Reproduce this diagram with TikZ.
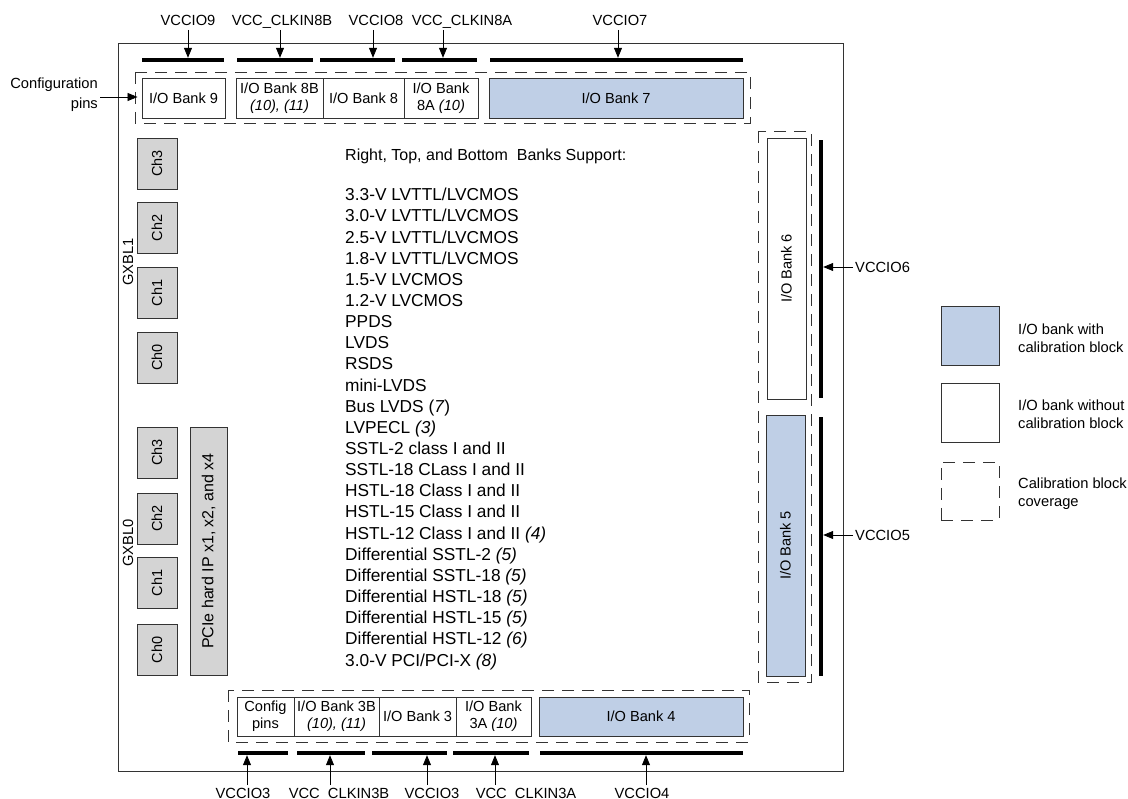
\documentclass[tikz,border=0pt]{standalone}
\usepackage{fontspec}
\setmainfont{Liberation Sans}
\usetikzlibrary{arrows.meta}
\definecolor{bankblue}{HTML}{BFCFE6}
\definecolor{chgray}{HTML}{D4D4D4}
\definecolor{edge}{HTML}{333333}
\begin{document}
\begin{tikzpicture}[x=1pt,y=-1pt,
  bank/.style={draw=edge, line width=0.9pt, inner sep=0pt, align=center, font=\fontsize{14.6}{17}\selectfont},
  bluebank/.style={bank, fill=bankblue},
  chbox/.style={draw=edge, line width=0.9pt, fill=chgray, inner sep=0pt, rotate=90, minimum width=51pt, minimum height=40pt, font=\fontsize{14.5}{16}\selectfont},
  pwrbar/.style={fill=black, draw=none, inner sep=0pt, minimum height=4pt},
  vbar/.style={fill=black, draw=none, inner sep=0pt, minimum width=4pt},
  lbl/.style={inner sep=2pt, font=\fontsize{14.7}{17}\selectfont},
  arr/.style={draw=black, line width=0.8pt, -{Triangle[length=10pt,width=8pt]}},
  calib/.style={draw=edge, line width=0.8pt, dash pattern=on 12pt off 8pt},
  txt/.style={inner sep=0pt, align=left},
]
\useasboundingbox (0,0) rectangle (1128,799);
% chip outline
\draw[draw=edge, line width=0.9pt] (118,43) rectangle (843,771);

% ---------- top ----------
\draw[calib] (135,72) rectangle (750,123);
\node[bank, minimum width=83pt, minimum height=40pt] (b9) at (183.5,98) {I/O Bank 9};
\node[bank, minimum width=87pt, minimum height=40pt] (b8b) at (279.5,98) {I/O Bank 8B\\\textit{(10), (11)}};
\node[bank, minimum width=81pt, minimum height=40pt] (b8) at (363.5,98) {I/O Bank 8};
\node[bank, minimum width=74pt, minimum height=40pt] (b8a) at (441,98) {I/O Bank\\8A \textit{(10)}};
\node[bluebank, minimum width=254pt, minimum height=40pt] (b7) at (616,98) {I/O Bank 7};

\node[pwrbar, minimum width=82pt] (t1) at (183,60) {};
\node[pwrbar, minimum width=76pt] (t2) at (275,60) {};
\node[pwrbar, minimum width=75pt] (t3) at (357.5,60) {};
\node[pwrbar, minimum width=75pt] (t4) at (439.5,60) {};
\node[pwrbar, minimum width=253pt] (t5) at (616.5,60) {};

\node[lbl, anchor=base] (lt1) at (188,25.5) {VCCIO9};
\node[lbl, anchor=base] (lt2) at (282,25.5) {VCC\_CLKIN8B};
\node[lbl, anchor=base] (lt3) at (376,25.5) {VCCIO8};
\node[lbl, anchor=base] (lt4) at (462,25.5) {VCC\_CLKIN8A};
\node[lbl, anchor=base] (lt5) at (620,25.5) {VCCIO7};
\coordinate (s1) at (188,30);
\coordinate (s2) at (280,30);
\coordinate (s3) at (373,30);
\coordinate (s4) at (443,30);
\coordinate (s5) at (618,30);
\draw[arr] (s1) -- (s1 |- t1.north);
\draw[arr] (s2) -- (s2 |- t2.north);
\draw[arr] (s3) -- (s3 |- t3.north);
\draw[arr] (s4) -- (s4 |- t4.north);
\draw[arr] (s5) -- (s5 |- t5.north);

\node[lbl, align=right, anchor=east, font=\fontsize{14.7}{20}\selectfont] (cfg) at (100,95) {Configuration\\pins};
\draw[arr, shorten >=4pt] ([yshift=-2pt]cfg.east) -- ([yshift=-2pt]cfg.east -| b9.west);

% ---------- right ----------
\draw[calib] (758,131) rectangle (811,682);
\node[bank, rotate=90, minimum width=261pt, minimum height=39pt] (b6) at (786.5,268.5) {I/O Bank 6};
\node[bluebank, rotate=90, minimum width=261pt, minimum height=39pt] (b5) at (785.5,545.5) {I/O Bank 5};
\node[vbar, minimum height=258pt] (r6) at (821,269) {};
\node[vbar, minimum height=259pt] (r5) at (821,546.5) {};
\node[lbl, anchor=west] (lr6) at (853,267) {VCCIO6};
\node[lbl, anchor=west] (lr5) at (853,535) {VCCIO5};
\draw[arr] (lr6.west) -- (lr6.west -| r6.east);
\draw[arr] (lr5.west) -- (lr5.west -| r5.east);

% ---------- bottom ----------
\draw[calib] (228,690) rectangle (749,742);
\node[bank, minimum width=57pt, minimum height=39pt] (cfgp) at (265.5,716.5) {Config\\pins};
\node[bank, minimum width=85pt, minimum height=39pt] (b3b) at (336.5,716.5) {I/O Bank 3B\\\textit{(10), (11)}};
\node[bank, minimum width=77pt, minimum height=39pt] (b3) at (417.5,716.5) {I/O Bank 3};
\node[bank, minimum width=75pt, minimum height=39pt] (b3a) at (493.5,716.5) {I/O Bank\\3A \textit{(10)}};
\node[bluebank, minimum width=204pt, minimum height=39pt] (b4) at (641,716.5) {I/O Bank 4};

\node[pwrbar, minimum width=50pt] (d1) at (263,753) {};
\node[pwrbar, minimum width=68pt] (d2) at (331,753) {};
\node[pwrbar, minimum width=75pt] (d3) at (409.5,753) {};
\node[pwrbar, minimum width=76pt] (d4) at (491,753) {};
\node[pwrbar, minimum width=203pt] (d5) at (641.5,753) {};

\node[lbl, anchor=base] (ld1) at (243,798.5) {VCCIO3};
\node[lbl, anchor=base] (ld2) at (339,798.5) {VCC\_CLKIN3B};
\node[lbl, anchor=base] (ld3) at (432,798.5) {VCCIO3};
\node[lbl, anchor=base] (ld4) at (526,798.5) {VCC\_CLKIN3A};
\node[lbl, anchor=base] (ld5) at (642,798.5) {VCCIO4};
\coordinate (a1) at (247,785);
\coordinate (a2) at (330,785);
\coordinate (a3) at (427,785);
\coordinate (a4) at (495,785);
\coordinate (a5) at (646,785);
\draw[arr] (a1) -- (a1 |- d1.south);
\draw[arr] (a2) -- (a2 |- d2.south);
\draw[arr] (a3) -- (a3 |- d3.south);
\draw[arr] (a4) -- (a4 |- d4.south);
\draw[arr] (a5) -- (a5 |- d5.south);

% ---------- left transceivers ----------
\node[chbox] (u3) at (157,163.5) {Ch3};
\node[chbox] (u2) at (157,228) {Ch2};
\node[chbox] (u1) at (157,293) {Ch1};
\node[chbox] (u0) at (157,357.5) {Ch0};
\node[chbox] (l3) at (157,452.5) {Ch3};
\node[chbox] (l2) at (157,518.5) {Ch2};
\node[chbox] (l1) at (157,583) {Ch1};
\node[chbox] (l0) at (157,650) {Ch0};
\node[lbl, rotate=90] (gx1) at (128,262) {GXBL1};
\node[lbl, rotate=90] (gx0) at (128,543) {GXBL0};
\node[chbox, minimum width=248pt, minimum height=37pt, font=\fontsize{16}{18}\selectfont] (pcie) at (208.5,551) {PCIe hard IP x1, x2, and x4};

% ---------- standards list ----------
\node[txt, anchor=base west, font=\fontsize{16}{19}\selectfont] (head) at (345,161) {Right, Top, and Bottom\ \ Banks Support:};
\node[txt, anchor=base west, font=\fontsize{17.3}{21.15}\selectfont] (list) at (345,666) {%
3.3-V LVTTL/LVCMOS\\
3.0-V LVTTL/LVCMOS\\
2.5-V LVTTL/LVCMOS\\
1.8-V LVTTL/LVCMOS\\
1.5-V LVCMOS\\
1.2-V LVCMOS\\
PPDS\\
LVDS\\
RSDS\\
mini-LVDS\\
Bus LVDS (\textit{7})\\
LVPECL \textit{(3)}\\
SSTL-2 class I and II\\
SSTL-18 CLass I and II\\
HSTL-18 Class I and II\\
HSTL-15 Class I and II\\
HSTL-12 Class I and II \textit{(4)}\\
Differential SSTL-2 \textit{(5)}\\
Differential SSTL-18 \textit{(5)}\\
Differential HSTL-18 \textit{(5)}\\
Differential HSTL-15 \textit{(5)}\\
Differential HSTL-12 \textit{(6)}\\
3.0-V PCI/PCI-X \textit{(8)}};

% ---------- legend ----------
\node[bluebank, minimum width=58pt, minimum height=59pt] (kblue) at (970,335.5) {};
\node[bank, minimum width=58pt, minimum height=59pt] (kwhite) at (970,412.5) {};
\node[calib, inner sep=0pt, minimum width=58pt, minimum height=58pt] (kdash) at (970,491) {};
\node[lbl, txt, anchor=west, font=\fontsize{14.7}{17.5}\selectfont] (tblue) at (1018,338) {I/O bank with\\calibration block};
\node[lbl, txt, anchor=west, font=\fontsize{14.7}{17.5}\selectfont] (twhite) at (1018,414) {I/O bank without\\calibration block};
\node[lbl, txt, anchor=west, font=\fontsize{14.7}{17.5}\selectfont] (tdash) at (1018,493.5) {Calibration block\\coverage};
\end{tikzpicture}
\end{document}
